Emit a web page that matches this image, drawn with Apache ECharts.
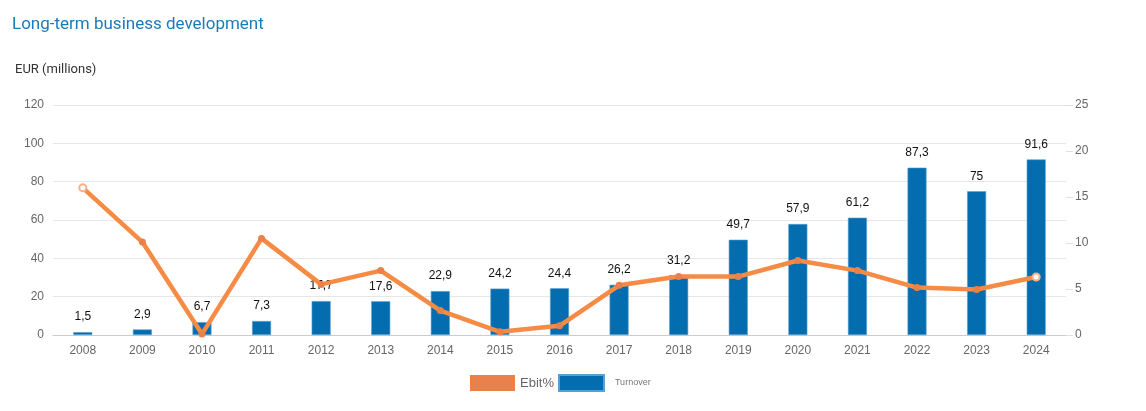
<!DOCTYPE html>
<html><head><meta charset="utf-8">
<script src="https://cdn.jsdelivr.net/npm/echarts@6/dist/echarts.min.js"></script>
<style>html,body{margin:0;padding:0;background:#fff}#c{width:1146px;height:411px}</style>
</head><body><div id="c"></div>
<script>
const years = ['2008','2009','2010','2011','2012','2013','2014','2015','2016','2017','2018','2019','2020','2021','2022','2023','2024'];
const turnover = [1.5,2.9,6.7,7.3,17.7,17.6,22.9,24.2,24.4,26.2,31.2,49.7,57.9,61.2,87.3,75,91.6];
const ebit = [16.0,10.1,0.1,10.5,5.5,7.0,2.65,0.35,1.0,5.4,6.35,6.35,8.1,7.0,5.15,4.95,6.3];

const chart = echarts.init(document.getElementById('c'));
const orange = '#F68B45', blue = '#046DAF';
chart.setOption({
  animation: false,
  title: [
    {text: 'Long-term business development', left: 7, top: 11,
     textStyle: {fontFamily: 'Roboto', fontSize: 17, fontWeight: 'normal', color: '#1A7BB9'}},
    {text: 'EUR (millions)', left: 10, top: 58,
     textStyle: {fontFamily: 'Roboto', fontSize: 13, fontWeight: 'normal', color: '#333'}}
  ],
  legend: {
    bottom: 14, left: 465, itemWidth: 45, itemHeight: 16, itemGap: 4, icon: 'rect',
    data: [
      {name: 'Ebit%', textStyle: {fontSize: 13, color: '#666', fontFamily: 'Liberation Sans'}},
      {name: 'Turnover', textStyle: {fontSize: 9, color: '#777', fontFamily: 'Liberation Sans', padding: [0,0,0,6]}}
    ]
  },
  grid: {left: 53, right: 80, top: 105, bottom: 76},
  xAxis: {
    type: 'category', data: years,
    axisLine: {lineStyle: {color: '#ccc'}}, axisTick: {show: false},
    axisLabel: {color: '#666', fontSize: 12, fontFamily: 'Liberation Sans', margin: 10}
  },
  yAxis: [
    {type: 'value', min: 0, max: 120, interval: 20,
     axisLabel: {color: '#666', fontSize: 12, fontFamily: 'Liberation Sans', margin: 9},
     splitLine: {lineStyle: {color: '#e6e6e6'}}, axisLine: {show: false}, axisTick: {show: false}},
    {type: 'value', min: 0, max: 25, interval: 5, position: 'right',
     axisLabel: {color: '#666', fontSize: 12, fontFamily: 'Liberation Sans', margin: 9},
     splitLine: {show: false}, axisLine: {show: false},
     axisTick: {show: true, length: 7, lineStyle: {color: '#e0e0e0'}}}
  ],
  series: [
    {name: 'Turnover', type: 'bar', data: turnover, barWidth: 19, yAxisIndex: 0, z: 2,
     itemStyle: {color: blue, borderColor: '#5A9FCF', borderWidth: 0.6},
     label: {show: true, position: 'top', distance: 9, color: '#111', fontSize: 12,
             fontFamily: 'Liberation Sans',
             formatter: p => String(p.value).replace('.', ',')}},
    {name: 'Ebit%', type: 'line', yAxisIndex: 1, z: 5,
     data: ebit.map((v, i) => (i === 0 || i === ebit.length - 1)
       ? {value: v, symbol: 'emptyCircle', itemStyle: {color: '#F8B088', borderColor: orange}}
       : v),
     symbol: 'circle', symbolSize: 7,
     lineStyle: {color: orange, width: 4.5},
     itemStyle: {color: '#E9824A'}}
  ]
});
</script></body></html>
